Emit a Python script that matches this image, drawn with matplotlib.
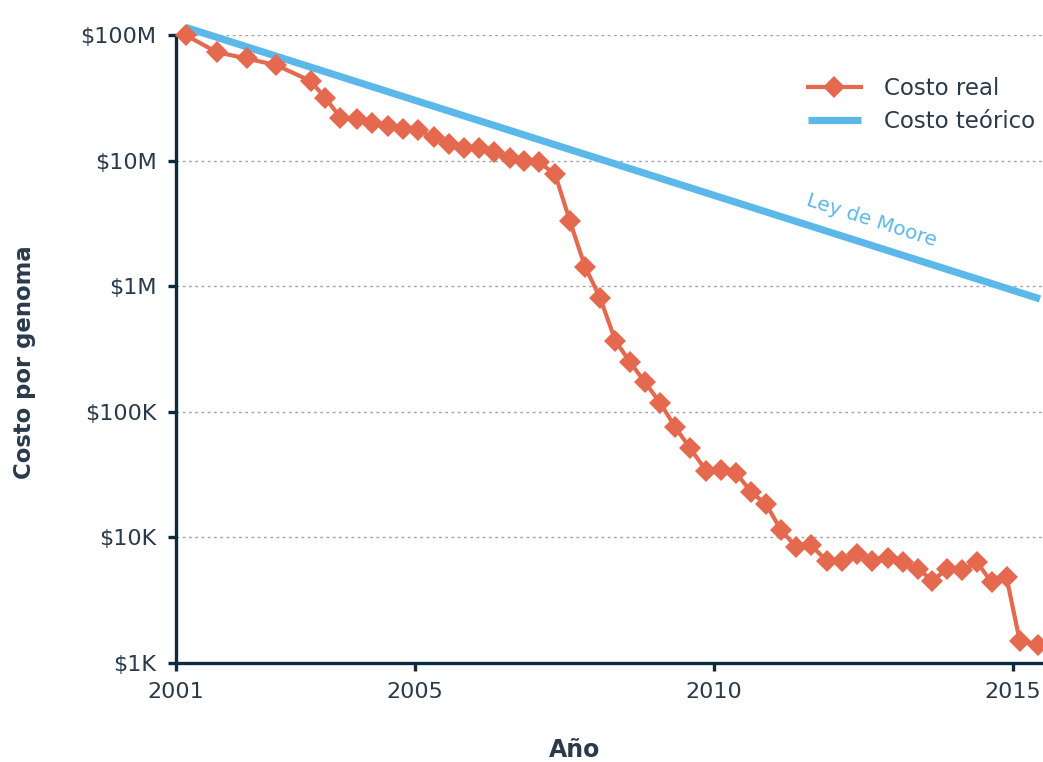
import matplotlib
matplotlib.use("Agg")
import matplotlib.pyplot as plt
from matplotlib.ticker import FixedLocator, FixedFormatter, NullLocator

# ---- data ----
years_real = [2001.16, 2001.68, 2002.18, 2002.68, 2003.25, 2003.50, 2003.75, 2004.02,
              2004.27, 2004.54, 2004.79, 2005.04, 2005.31, 2005.56, 2005.81, 2006.06,
              2006.31, 2006.58, 2006.82, 2007.07, 2007.34, 2007.59, 2007.84, 2008.09,
              2008.35, 2008.59, 2008.84, 2009.10, 2009.35, 2009.60, 2009.87, 2010.12,
              2010.37, 2010.62, 2010.87, 2011.12, 2011.37, 2011.62, 2011.88, 2012.14,
              2012.39, 2012.64, 2012.90, 2013.16, 2013.41, 2013.65, 2013.90, 2014.15,
              2014.40, 2014.64, 2014.89, 2015.11, 2015.41]
cost_real = [1.00e8, 7.3e7, 6.5e7, 5.75e7, 4.3e7, 3.14e7, 2.2e7, 2.13e7,
             1.98e7, 1.87e7, 1.77e7, 1.74e7, 1.53e7, 1.35e7, 1.27e7, 1.25e7,
             1.16e7, 1.04e7, 1.0e7, 9.7e6, 7.8e6, 3.27e6, 1.43e6, 8.1e5,
             3.66e5, 2.49e5, 1.72e5, 1.17e5, 7.5e4, 5.1e4, 3.36e4, 3.42e4,
             3.24e4, 2.28e4, 1.83e4, 1.13e4, 8.4e3, 8.6e3, 6.5e3, 6.4e3,
             7.4e3, 6.5e3, 6.8e3, 6.3e3, 5.6e3, 4.5e3, 5.6e3, 5.5e3,
             6.3e3, 4.36e3, 4.78e3, 1.5e3, 1.39e3]

years_moore = [2001.16, 2015.45]
cost_moore = [1.15e8, 7.9e5]

x_ticks = [2001, 2005, 2010, 2015]
x_ticklabels = ["2001", "2005", "2010", "2015"]
y_ticks = [1e3, 1e4, 1e5, 1e6, 1e7, 1e8]
y_ticklabels = ["$1K", "$10K", "$100K", "$1M", "$10M", "$100M"]

legend_labels = ["Costo real", "Costo teórico"]
moore_label = "Ley de Moore"
x_label = "Año"
y_label = "Costo por genoma"

# ---- styling ----
ORANGE = "#e5694f"
BLUE = "#5cb8e8"
NAVY = "#0e2a3f"
TEXT = "#2b3a4a"
GRID = "#9aa5b0"

plt.rcParams['font.family'] = ['DejaVu Sans']

W, H = 1043, 762
fig = plt.figure(figsize=(W / 100, H / 100), dpi=100)
ax_left, ax_right = 176, 1043
ax_top, ax_bottom = 35, 662.7
ax = fig.add_axes([ax_left / W, 1 - ax_bottom / H, (ax_right - ax_left) / W, (ax_bottom - ax_top) / H])

ax.set_yscale('log')
ax.set_xlim(2001, 2015.5)
ax.set_ylim(1e3, 1e8)

for v in y_ticks:
    ax.axhline(v, color=GRID, lw=1.0, dashes=(2.0, 2.5), zorder=1)

ln_moore, = ax.plot(years_moore, cost_moore, color=BLUE, lw=5.2, solid_capstyle='butt',
                    zorder=3, clip_on=False)
ln_real, = ax.plot(years_real, cost_real, color=ORANGE, lw=3, marker='D', markersize=11.5,
                   markeredgewidth=0, zorder=4, clip_on=False)

ax.text(2012.64, 3.3e6, moore_label, color=BLUE, fontsize=14.5, rotation=-17.7,
        ha='center', va='center', rotation_mode='anchor')

for side in ['top', 'right']:
    ax.spines[side].set_visible(False)
for side in ['left', 'bottom']:
    ax.spines[side].set_color(NAVY)
    ax.spines[side].set_linewidth(2.4)

ax.yaxis.set_major_locator(FixedLocator(y_ticks))
ax.yaxis.set_major_formatter(FixedFormatter(y_ticklabels))
ax.yaxis.set_minor_locator(NullLocator())
ax.xaxis.set_major_locator(FixedLocator(x_ticks))
ax.xaxis.set_major_formatter(FixedFormatter(x_ticklabels))
ax.tick_params(axis='both', which='major', direction='out', length=6, width=2.4,
               color=NAVY, labelcolor=TEXT, labelsize=16)
ax.tick_params(axis='y', pad=8)
ax.tick_params(axis='x', pad=8)

fig.text(575 / W, 1 - 750 / H, x_label, ha='center', va='center', fontsize=17,
         fontweight='bold', color=TEXT)
fig.text(25 / W, 1 - 362 / H, y_label, ha='center', va='center', fontsize=16.4,
         fontweight='bold', color=TEXT, rotation=90)

leg = ax.legend([ln_real, ln_moore], legend_labels, loc='upper left',
                bbox_to_anchor=(808 / W, 1 - 77 / H), bbox_transform=fig.transFigure,
                frameon=False, fontsize=16.5, handlelength=2.3, handletextpad=1.0,
                labelspacing=0.45, borderaxespad=0, borderpad=0)
for t in leg.get_texts():
    t.set_color(TEXT)

fig.savefig("out.png", dpi=100, facecolor='white')
